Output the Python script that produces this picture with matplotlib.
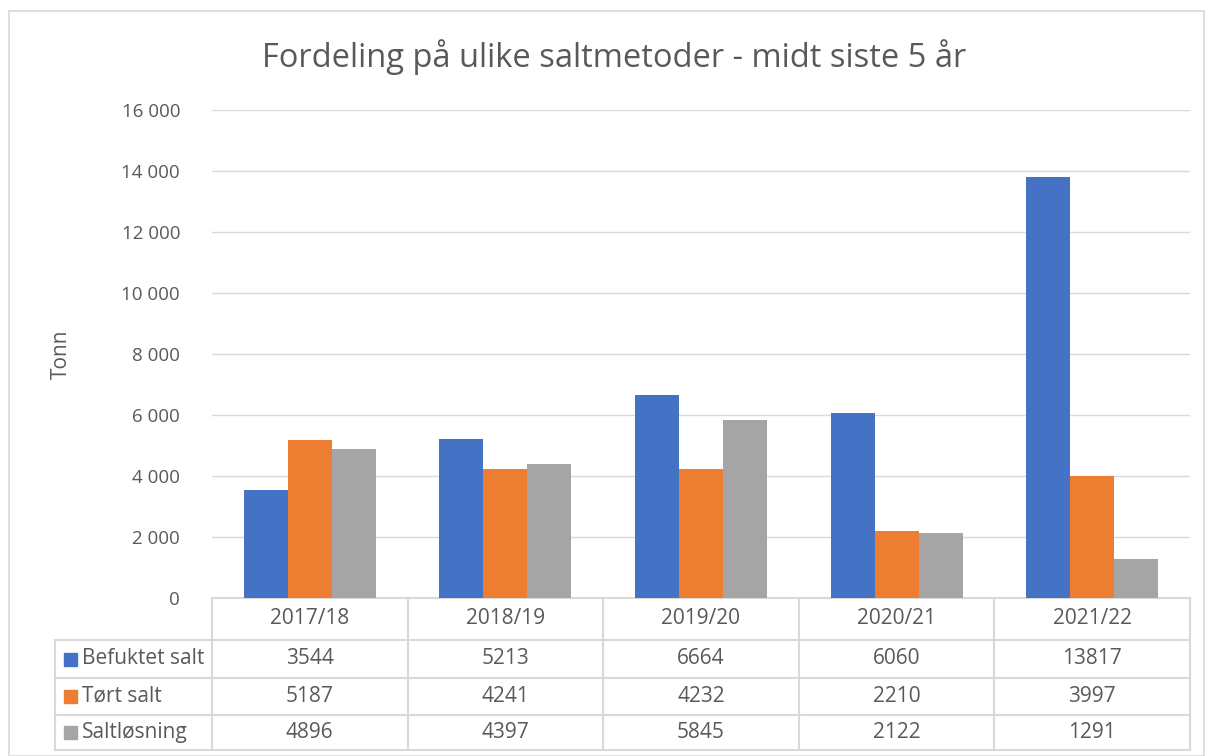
import matplotlib.pyplot as plt
from matplotlib.patches import Rectangle
import numpy as np

# data
sesonger = ["2017/18", "2018/19", "2019/20", "2020/21", "2021/22"]
serier = ["Befuktet salt", "Tørt salt", "Saltløsning"]
befuktet = [3544, 5213, 6664, 6060, 13817]
tort = [5187, 4241, 4232, 2210, 3997]
losning = [4896, 4397, 5845, 2122, 1291]
farger = ["#4472C4", "#ED7D31", "#A5A5A5"]

plt.rcParams["font.family"] = ["Open Sans", "DejaVu Sans"]
tekst = "#595959"
linje = "#D9D9D9"
fs = 15

fig = plt.figure(figsize=(12.08, 7.56), dpi=100)
# ramme rundt hele diagrammet
fig.patches.append(Rectangle((9 / 1208, 0), 1195 / 1208, 745 / 756,
                             transform=fig.transFigure, fill=False,
                             edgecolor=linje, linewidth=1.2))

ax = fig.add_axes([212 / 1208, 158 / 756, 978 / 1208, 488 / 756])

x = np.arange(len(sesonger))
b = 0.225
alle = [befuktet, tort, losning]
for i, verdier in enumerate(alle):
    ax.bar(x + (i - 1) * b, verdier, width=b, color=farger[i], zorder=3)

ax.set_xlim(-0.5, len(sesonger) - 0.5)
ax.set_ylim(0, 16000)
ax.set_yticks(range(0, 16001, 2000))
ax.set_yticklabels([f"{v:,}".replace(",", " ") for v in range(0, 16001, 2000)],
                   fontsize=13.5, color=tekst)
ax.tick_params(axis="y", length=0, pad=23)
ax.set_xticks([])
ax.grid(axis="y", color=linje, linewidth=1, zorder=0)
for s in ["left", "right", "top", "bottom"]:
    ax.spines[s].set_visible(False)

ax.set_ylabel("Tonn", fontsize=fs, color=tekst, labelpad=36)
fig.text(614 / 1208, 1 - 57 / 756, "Fordeling på ulike saltmetoder - midt siste 5 år",
         ha="center", va="center", fontsize=23.5, color=tekst)

# datatabell under diagrammet (x i dataenheter, y i aksebrøk)
tr = ax.get_xaxis_transform()
rader = [0, -42 / 488, -80 / 488, -117 / 488, -152 / 488]
venstre = -0.5 - 157 / 978 * 5  # venstre kant for radetikettene i dataenheter
kw = dict(transform=tr, color=linje, linewidth=1.5, clip_on=False)
ax.plot([-0.5, 4.5], [0, 0], **kw)
for y in rader[1:]:
    ax.plot([venstre, 4.5], [y, y], **kw)
for xv in np.arange(-0.5, 5, 1):
    ax.plot([xv, xv], [0, rader[-1]], **kw)
ax.plot([venstre, venstre], [rader[1], rader[-1]], **kw)

for j, s in enumerate(sesonger):
    ax.text(j, (rader[0] + rader[1]) / 2, s, transform=tr, ha="center", va="center",
            fontsize=fs, color=tekst)
for i, navn in enumerate(serier):
    ym = (rader[i + 1] + rader[i + 2]) / 2
    ax.add_patch(Rectangle((venstre + 0.045, ym - 6.5 / 488), 0.065, 13 / 488,
                           transform=tr, color=farger[i], clip_on=False))
    ax.text(venstre + 0.14, ym, navn, transform=tr, ha="left", va="center",
            fontsize=fs, color=tekst)
    for j, v in enumerate(alle[i]):
        ax.text(j, ym, str(v), transform=tr, ha="center", va="center",
                fontsize=fs, color=tekst)

fig.savefig("out.png", dpi=100)
